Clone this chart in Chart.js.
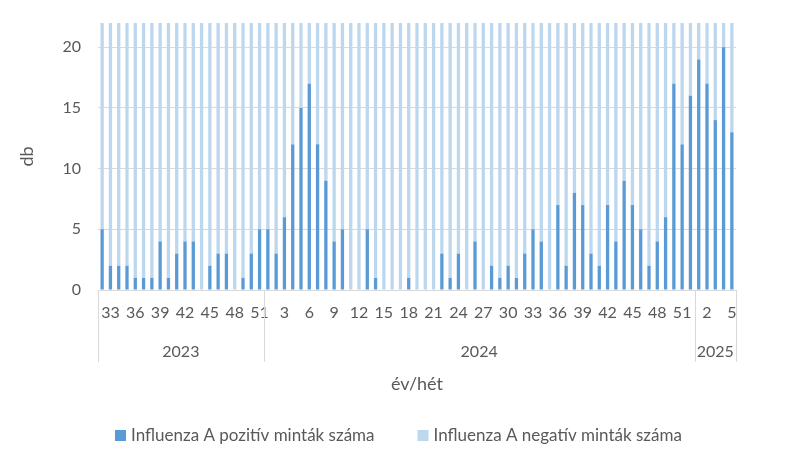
<!DOCTYPE html>
<html>
<head>
<meta charset="utf-8">
<script src="https://cdn.jsdelivr.net/npm/chart.js@4.4.1/dist/chart.umd.min.js"></script>
<style>
    html, body { margin: 0; padding: 0; background: #fff; }
    #wrap { width: 790px; height: 466px; }
</style>
</head>
<body>
<div id="wrap"><canvas id="chart"></canvas></div>
<script>
// adatok (év/hét) //
const years = ["2023", "2024", "2025"];

const weeks = [32, 33, 34, 35, 36, 37, 38, 39, 40, 41, 42, 43, 44, 45, 46, 47, 48, 49, 50, 51,
    1, 2, 3, 4, 5, 6, 7, 8, 9, 10, 11, 12, 13, 14, 15, 16, 17, 18, 19, 20, 21, 22, 23, 24, 25, 26,
    27, 28, 29, 30, 31, 32, 33, 34, 35, 36, 37, 38, 39, 40, 41, 42, 43, 44, 45, 46, 47, 48, 49, 50, 51, 52,
    1, 2, 3, 4, 5];

const positive = [5, 2, 2, 2, 1, 1, 1, 4, 1, 3, 4, 4, 0, 2, 3, 3, 0, 1, 3, 5,
    5, 3, 6, 12, 15, 17, 12, 9, 4, 5, 0, 0, 5, 1, 0, 0, 0, 1, 0, 0, 0, 3, 1, 3, 0, 4,
    0, 2, 1, 2, 1, 3, 5, 4, 0, 7, 2, 8, 7, 3, 2, 7, 4, 9, 7, 5, 2, 4, 6, 17, 12, 16,
    19, 17, 14, 20, 13];

const negative = [17, 20, 20, 20, 21, 21, 21, 18, 21, 19, 18, 18, 22, 20, 19, 19, 22, 21, 19, 17,
    17, 19, 16, 10, 7, 5, 10, 13, 18, 17, 22, 22, 17, 21, 22, 22, 22, 21, 22, 22, 22, 19, 21, 19, 22, 18,
    22, 20, 21, 20, 21, 19, 17, 18, 22, 15, 20, 14, 15, 19, 20, 15, 18, 13, 15, 17, 20, 18, 16, 5, 10, 6,
    3, 5, 8, 2, 9];

const textColor = "#595959";
const gridColor = "#D9D9D9";
const fontName = "Lato";

// második szint: évek + elválasztó vonalak, és a jelmagyarázat //
const yearAxis = {
    id: "yearAxis",
    afterDraw(chart) {
        const ctx = chart.ctx;
        const x = chart.scales.x;
        const bottom = chart.chartArea.bottom;
        const half = (x.getPixelForValue(1) - x.getPixelForValue(0)) / 2;

        const starts = [0];
        for (let i = 1; i < weeks.length; i++) {
            if (weeks[i] < weeks[i - 1]) starts.push(i);
        }
        starts.push(weeks.length);

        ctx.save();
        ctx.strokeStyle = gridColor;
        ctx.lineWidth = 1;
        ctx.fillStyle = textColor;
        ctx.font = "16px " + fontName;
        ctx.textAlign = "center";
        ctx.textBaseline = "middle";
        for (let g = 0; g < starts.length; g++) {
            const edge = Math.round(x.getPixelForValue(starts[g]) - half) + 0.5;
            ctx.beginPath();
            ctx.moveTo(edge, bottom);
            ctx.lineTo(edge, bottom + 72);
            ctx.stroke();
            if (g < years.length) {
                const a = x.getPixelForValue(starts[g]) - half;
                const b = x.getPixelForValue(starts[g + 1] - 1) + half;
                ctx.fillText(years[g], (a + b) / 2, bottom + 62);
            }
        }

        // legend //
        const items = chart.data.datasets;
        ctx.font = "17px " + fontName;
        ctx.textAlign = "left";
        const box = 11, gap = 5, between = 43;
        let total = 0;
        items.forEach((d, i) => {
            total += box + gap + ctx.measureText(d.label).width + (i ? between : 0);
        });
        let lx = Math.round(chart.width / 2 + 3 - total / 2);
        const ly = 436;
        items.forEach((d) => {
            ctx.fillStyle = d.backgroundColor;
            ctx.fillRect(lx, ly - 6, box, box);
            ctx.fillStyle = textColor;
            ctx.fillText(d.label, lx + box + gap, ly);
            lx += box + gap + ctx.measureText(d.label).width + between;
        });
        ctx.restore();
    }
};

const chart = document.querySelector("#chart").getContext("2d");

new Chart(chart, {
    type: "bar",
    data: {
        labels: weeks.map(String),
        datasets: [
            {
                label: "Influenza A pozitív minták száma",
                data: positive,
                backgroundColor: "#5B9BD5",
                barPercentage: 0.4,
                categoryPercentage: 1
            },
            {
                label: "Influenza A negatív minták száma",
                data: negative,
                backgroundColor: "#BDD7EE",
                barPercentage: 0.4,
                categoryPercentage: 1
            }
        ]
    },
    options: {
        responsive: true,
        maintainAspectRatio: false,
        animation: false,
        layout: { padding: { top: 23, right: 54, left: 0, bottom: 71 } },
        plugins: {
            tooltip: { enabled: false },
            legend: { display: false }
        },
        scales: {
            x: {
                stacked: true,
                afterFit: (s) => { s.height = 105; s.paddingLeft = 0; s.paddingRight = 0; },
                grid: { display: false, drawTicks: false },
                border: { display: false },
                ticks: {
                    autoSkip: false,
                    maxRotation: 0,
                    padding: 13,
                    color: textColor,
                    font: { family: fontName, size: 16 },
                    callback: (v, i) => (i % 3 === 1 ? weeks[i] : "")
                },
                title: {
                    display: true,
                    text: "év/hét",
                    color: textColor,
                    font: { family: fontName, size: 18 },
                    padding: { top: 0, bottom: 0 }
                }
            },
            y: {
                stacked: true,
                min: 0,
                max: 22,
                afterFit: (s) => { s.width = 98; s.paddingTop = 0; s.paddingBottom = 0; },
                grid: { color: gridColor, drawTicks: false },
                border: { display: false },
                ticks: {
                    stepSize: 5,
                    includeBounds: false,
                    padding: 17,
                    color: textColor,
                    font: { family: fontName, size: 16 }
                },
                title: {
                    display: true,
                    text: "db",
                    color: textColor,
                    font: { family: fontName, size: 18 },
                    padding: { top: 16, bottom: 0 }
                }
            }
        }
    },
    plugins: [yearAxis]
});
</script>
</body>
</html>
